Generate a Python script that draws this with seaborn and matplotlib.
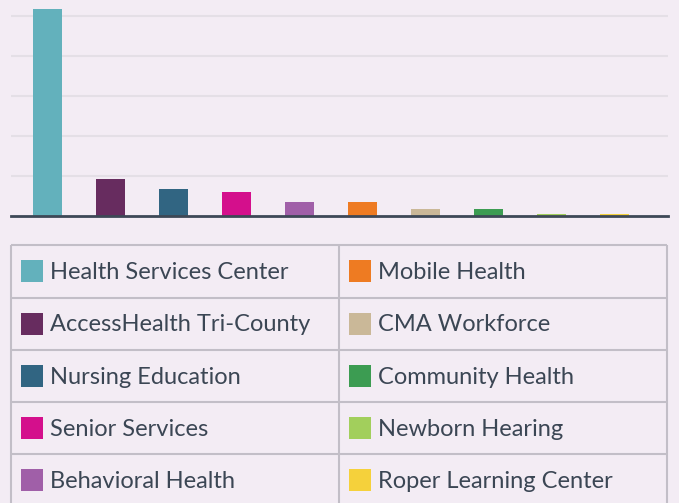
import numpy as np
import pandas as pd
import seaborn as sns
import matplotlib.pyplot as plt
from matplotlib.patches import Rectangle

# programs and their values (grid step = 20)
programs = ['Health Services Center', 'AccessHealth Tri-County', 'Nursing Education',
            'Senior Services', 'Behavioral Health', 'Mobile Health', 'CMA Workforce',
            'Community Health', 'Newborn Hearing', 'Roper Learning Center']
values = [103.5, 18.5, 13.5, 12, 7, 7, 3.5, 3.5, 1, 1]
colors = ['#63b1bc', '#672c5f', '#316582', '#d40f8c', '#a05fa8',
          '#ee7b22', '#cab898', '#3c9c52', '#a2cf5c', '#f5d13b']

bg = '#f3ecf4'
text_col = '#3b4654'
grid_col = '#e4dfe6'
rule_col = '#c2bec7'

sns.set_theme(style='white', rc={'figure.facecolor': bg, 'axes.facecolor': bg})
plt.rcParams['font.family'] = ['Lato', 'DejaVu Sans']

W, H = 679, 503
fig = plt.figure(figsize=(W / 100, H / 100), dpi=100)

df = pd.DataFrame({'program': programs, 'value': values})

# bar area
ax = fig.add_axes([11 / W, (H - 216) / H, 657 / W, 216 / H])
sns.barplot(data=df, x='program', y='value', hue='program', palette=colors,
            width=0.46, saturation=1, linewidth=0, legend=False, ax=ax, zorder=3)
ax.set_xlim(-0.58, 9.85)
ax.set_ylim(0, 108)
ax.set_yticks([20, 40, 60, 80, 100])
ax.yaxis.grid(True, color=grid_col, lw=1.5, zorder=0)
ax.set_xticks([])
ax.set_yticklabels([])
ax.tick_params(left=False, bottom=False)
ax.set_xlabel('')
ax.set_ylabel('')
for s in ['top', 'right', 'left']:
    ax.spines[s].set_visible(False)
ax.spines['bottom'].set_color('#3d4856')
ax.spines['bottom'].set_linewidth(2)
ax.spines['bottom'].set_zorder(4)

# legend table below, drawn in pixel coordinates
lg = fig.add_axes([0, 0, 1, 1], facecolor='none')
lg.set_xlim(0, W)
lg.set_ylim(H, 0)
lg.axis('off')

rows = [245, 297.5, 350, 402, 454, 506]
cols = [11, 339, 667]
for y in rows:
    lg.plot([cols[0], cols[-1]], [y, y], color=rule_col, lw=1.5, solid_capstyle='butt')
for x in cols:
    lg.plot([x, x], [rows[0], rows[-1]], color=rule_col, lw=1.5, solid_capstyle='butt')

for i, (name, c) in enumerate(zip(programs, colors)):
    col, row = divmod(i, 5)
    cy = (rows[row] + rows[row + 1]) / 2
    x0 = cols[col] + 10
    lg.add_patch(Rectangle((x0, cy - 11), 22, 22, color=c, lw=0))
    lg.text(x0 + 29, cy + 1, name, fontsize=17, color=text_col, va='center', ha='left')

fig.savefig('out.png', dpi=100, facecolor=bg)
